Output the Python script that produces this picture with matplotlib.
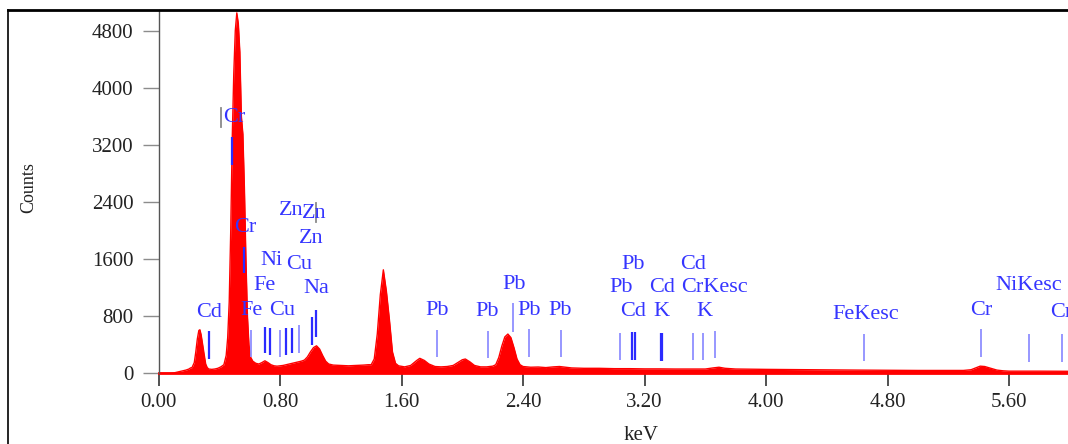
import matplotlib
matplotlib.use('Agg')
import matplotlib.pyplot as plt
from matplotlib.lines import Line2D

plt.rcParams['font.family'] = ['Liberation Serif', 'DejaVu Serif']

# ---- spectrum (keV, counts) ----
energy_kev = [0.00, 0.08, 0.10, 0.12, 0.14, 0.16, 0.18, 0.20, 0.21, 0.22, 0.235, 0.245,
              0.255, 0.265, 0.272, 0.28, 0.29, 0.30, 0.31, 0.32, 0.33, 0.35, 0.37, 0.39,
              0.41, 0.43, 0.445, 0.455, 0.465, 0.475, 0.485, 0.495, 0.505, 0.515, 0.525,
              0.535, 0.545, 0.555, 0.565, 0.575, 0.585, 0.595, 0.605, 0.62, 0.64, 0.66,
              0.68, 0.70, 0.72, 0.74, 0.76, 0.78, 0.80, 0.82, 0.84, 0.86, 0.88, 0.90,
              0.92, 0.94, 0.96, 0.98, 1.00, 1.02, 1.04, 1.06, 1.08, 1.10, 1.12, 1.15,
              1.20, 1.25, 1.30, 1.35, 1.38, 1.40, 1.42, 1.44, 1.46, 1.48, 1.50, 1.52,
              1.54, 1.56, 1.58, 1.62, 1.66, 1.70, 1.72, 1.75, 1.78, 1.82, 1.86, 1.90,
              1.94, 1.97, 2.00, 2.02, 2.05, 2.08, 2.12, 2.16, 2.20, 2.22, 2.24, 2.26,
              2.28, 2.30, 2.32, 2.34, 2.36, 2.38, 2.40, 2.45, 2.50, 2.55, 2.60, 2.64,
              2.68, 2.72, 2.80, 2.90, 3.00, 3.10, 3.20, 3.30, 3.40, 3.50, 3.60, 3.65,
              3.69, 3.73, 3.80, 4.00, 4.30, 4.60, 5.00, 5.30, 5.35, 5.38, 5.41, 5.44,
              5.48, 5.52, 5.56, 5.60, 5.80, 6.00]
counts = [0, 0, 5, 15, 25, 35, 45, 60, 75, 80, 150, 300,
          480, 600, 610, 540, 400, 250, 130, 80, 60, 55, 60, 70,
          90, 120, 250, 500, 1000, 2000, 3300, 4200, 4800, 5050, 4900,
          4500, 3600, 3350, 2600, 1600, 800, 400, 230, 170, 140, 130,
          150, 175, 150, 120, 105, 100, 105, 110, 120, 130, 140, 150,
          160, 170, 185, 230, 300, 360, 385, 340, 250, 170, 130, 115,
          110, 105, 110, 115, 120, 120, 200, 550, 1100, 1450, 1150, 750,
          300, 140, 105, 90, 110, 180, 210, 180, 130, 95, 90, 95,
          110, 150, 190, 200, 160, 110, 90, 90, 100, 120, 220, 380,
          510, 550, 500, 360, 200, 120, 95, 85, 88, 80, 90, 95,
          85, 75, 70, 70, 65, 65, 62, 62, 60, 60, 60, 75,
          85, 70, 60, 55, 50, 45, 40, 40, 50, 75, 100, 95,
          70, 45, 35, 30, 30, 28]

# ---- element marker lines ----
line_kev = [0.4853, 0.5643, 0.3339, 0.6065, 0.7006, 0.7336, 0.7994, 0.8389, 0.8765,
            0.9226, 1.0082, 1.0345, 1.8352, 2.1711, 2.3357, 2.4391, 2.6498, 3.0383,
            3.1206, 3.1340, 3.3060, 3.3129, 3.5210, 3.5869, 3.6639, 4.6471, 5.4155,
            5.7316, 5.9469]
line_top = [3315, 1774, 597, 607, 649, 635, 607, 635, 635,
            677, 793, 887, 607, 593, 985, 621, 607, 565,
            583, 583, 565, 565, 565, 565, 593, 551, 621,
            551, 551]
line_bottom = [2918, 1401, 196, 233, 284, 256, 233, 256, 284,
               284, 396, 513, 224, 214, 583, 233, 224, 186,
               186, 186, 177, 177, 186, 186, 214, 177, 233,
               163, 163]
line_dark = [1, 1, 1, 0, 1, 1, 0, 1, 1,
             0, 1, 1, 0, 0, 0, 0, 0, 0,
             1, 1, 1, 1, 0, 0, 0, 0, 0,
             0, 0]
cursor_kev = [0.4109, 1.0365]
cursor_top = [3717, 2386]
cursor_bottom = [3452, 2120]

# ---- element labels ----
label_text = ['Cr', 'Cr', 'Ni', 'Cu', 'Fe', 'Zn', 'Zn', 'Zn', 'Na', 'Cd', 'Fe', 'Cu',
              'Pb', 'Pb', 'Pb', 'Pb', 'Pb', 'Pb', 'Pb', 'Cd', 'K', 'Cd', 'Cd',
              'CrKesc', 'K', 'FeKesc', 'Cr', 'NiKesc', 'Cr']
label_kev = [0.4965, 0.5690, 0.7434, 0.9245, 0.7006, 0.8719, 1.0233, 1.0036, 1.0365,
             0.3319, 0.6150, 0.8126, 1.8366, 2.1658, 2.3403, 2.4391, 2.6465, 3.1239,
             3.0449, 3.1239, 3.3083, 3.3149, 3.5190, 3.6606, 3.5914, 4.6583, 5.4155,
             5.7316, 5.9400]
label_counts = [3580, 2040, 1575, 1520, 1225, 2277, 2235, 1884, 1184, 848, 876, 876,
                876, 862, 1247, 876, 876, 1527, 1198, 862, 862, 1198, 1527,
                1198, 862, 820, 876, 1226, 848]

xticks = [0.0, 0.8, 1.6, 2.4, 3.2, 4.0, 4.8, 5.6]
xtick_labels = ['0.00', '0.80', '1.60', '2.40', '3.20', '4.00', '4.80', '5.60']
yticks = [0, 800, 1600, 2400, 3200, 4000, 4800]

W, H = 1068, 444
x0, px_per_kev = 158.6, 151.86
y0, px_per_count = 373.3, 0.071375
top_px = 10.5

fig = plt.figure(figsize=(W / 100, H / 100), dpi=100)
ax = fig.add_axes([x0 / W, 1 - y0 / H, 1 - x0 / W, (y0 - top_px) / H])
ax.set_xlim(0, (W - x0) / px_per_kev)
ax.set_ylim(0, (y0 - top_px) / px_per_count)

ax.fill_between(energy_kev, counts, 0, color='#ff0000', lw=0, zorder=2)
ax.plot(energy_kev, counts, color='#ff0000', lw=1.0, zorder=2)
ax.axhline(0, color='#ff0000', lw=2, zorder=2, clip_on=False)

dark_blue = '#2b2bff'
light_blue = '#8f8fff'
for k, t, b, d in zip(line_kev, line_top, line_bottom, line_dark):
    ax.plot([k, k], [b, t], color=dark_blue if d else light_blue,
            lw=1.6 if d else 1.3, zorder=3, solid_capstyle='butt')
for k, t, b in zip(cursor_kev, cursor_top, cursor_bottom):
    ax.plot([k, k], [b, t], color='#8a8a8a', lw=1.3, zorder=3)

for s, k, c in zip(label_text, label_kev, label_counts):
    ha = 'center'
    if s == 'Cr' and k > 5.8:
        ha = 'left'
        k = (1050 - x0) / px_per_kev
    ax.text(k, c, s, ha=ha, va='center', color='#3535ff', fontsize=16, zorder=4,
            clip_on=False)

for sp in ['top', 'right', 'bottom']:
    ax.spines[sp].set_visible(False)
ax.spines['left'].set_color('#555555')
ax.spines['left'].set_linewidth(1.0)

ax.set_xticks(xticks, labels=xtick_labels)
ax.set_yticks(yticks)
ax.tick_params(axis='y', direction='out', length=11.5, width=1.0, color='#8c8c8c',
               pad=6.5, labelsize=15, labelcolor='#222222')
ax.tick_params(axis='x', direction='out', length=9.4, width=1.2, color='#333333',
               pad=5, labelsize=15, labelcolor='#222222')

fig.text(29 / W, 1 - 188 / H, 'Counts', rotation=90, ha='center', va='center',
         fontsize=13, color='#222222')
fig.text(641 / W, 1 - 435 / H, 'keV', ha='center', va='center', fontsize=15,
         color='#222222')

# outer frame of the figure panel
fig.add_artist(Line2D([7.5 / W, 1], [1 - top_px / H] * 2, color='black', lw=2))
fig.add_artist(Line2D([7.5 / W] * 2, [0, 1 - top_px / H], color='black', lw=1.2))

fig.savefig('out.png', dpi=100)
